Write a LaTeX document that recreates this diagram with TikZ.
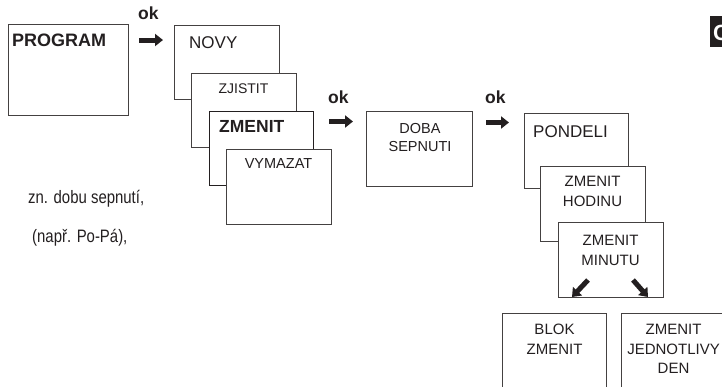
\documentclass[tikz,border=0pt]{standalone}
\usepackage{fontspec}
\setmainfont{Liberation Sans}
\newfontfamily\narrowfont{Liberation Sans}[FakeStretch=0.83]
\usetikzlibrary{arrows.meta}
\definecolor{ink}{HTML}{231F20}
\begin{document}
\begin{tikzpicture}[x=1pt,y=-1pt,
  box/.style={draw=ink!85, line width=0.9pt, fill=white, minimum width=105pt,
    minimum height=75pt, inner sep=0pt, anchor=north west},
  txt/.style={inner sep=0pt, text=ink},
  multi/.style={txt, anchor=north, align=center, font=\fontsize{15}{19.5}\selectfont},
  okl/.style={txt, anchor=base west, font=\bfseries\fontsize{17.5}{20}\selectfont},
  okarrow/.style={draw=ink, line width=5pt, -{Triangle[length=8pt,width=12pt]}}
]
\useasboundingbox (0,0) rectangle (722,386);
\clip (0,0) rectangle (722,386);

% PROGRAM
\node[box, minimum width=120pt, minimum height=91pt] (prog) at (8,24) {};
\node[txt, anchor=base west, font=\bfseries\fontsize{18}{20}\selectfont] (progT) at (12,46) {PROGRAM};
\node[okl] (ok1) at (138,19) {ok};
\coordinate (a1s) at (139,40);
\coordinate (a1e) at (163,40);
\draw[okarrow] (a1s) -- (a1e);

% stack 1
\node[box, minimum height=74pt] (novy) at (174,25) {};
\node[txt, anchor=base west, font=\fontsize{17}{20}\selectfont] (novyT) at (189,48) {NOVY};
\node[box, minimum height=74pt] (zjis) at (191,73) {};
\node[txt, anchor=base, font=\fontsize{14}{17}\selectfont] (zjisT) at (243.5,93) {ZJISTIT};
\node[box, draw=ink, minimum width=104pt, minimum height=74pt] (zmen) at (209,111) {};
\node[txt, anchor=base west, font=\bfseries\fontsize{17.5}{20}\selectfont] (zmenT) at (219,132) {ZMENIT};
\node[box] (vym) at (226,149) {};
\node[txt, anchor=base, font=\fontsize{14.5}{17}\selectfont] (vymT) at (278.5,168) {VYMAZAT};

\node[okl] (ok2) at (328,103) {ok};
\coordinate (a2s) at (329,121.5);
\coordinate (a2e) at (353,121.5);
\draw[okarrow] (a2s) -- (a2e);

% DOBA SEPNUTI
\node[box, minimum width=106pt] (doba) at (366,111) {};
\node[multi, font=\fontsize{14.5}{18}\selectfont] (dobaT) at (420,123.6) {DOBA\\SEPNUTI};

\node[okl] (ok3) at (485,103) {ok};
\coordinate (a3s) at (486,122.5);
\coordinate (a3e) at (509,122.5);
\draw[okarrow] (a3s) -- (a3e);

% stack 2
\node[box, minimum width=104pt] (pond) at (524,113) {};
\node[txt, anchor=base west, font=\fontsize{17}{20}\selectfont] (pondT) at (533,137) {PONDELI};
\node[box] (hod) at (540,166) {};
\node[multi] (hodT) at (592.5,176.3) {ZMENIT\\HODINU};
\node[box] (min) at (558,222) {};
\node[multi] (minT) at (610.5,235.3) {ZMENIT\\MINUTU};
\coordinate (d1s) at (588,280);
\coordinate (d1e) at (572,297);
\coordinate (d2s) at (633,280);
\coordinate (d2e) at (648,297);
\draw[okarrow] (d1s) -- (d1e);
\draw[okarrow] (d2s) -- (d2e);

% bottom
\node[box, minimum width=104pt, minimum height=90pt] (blok) at (502,313) {};
\node[multi] (blokT) at (554.5,324.3) {BLOK\\ZMENIT};
\node[box, minimum height=90pt] (jed) at (621,313) {};
\node[multi] (jedT) at (673.5,324.3) {ZMENIT\\JEDNOTLIVY\\DEN};

% left text
\node[txt, anchor=base west, font=\narrowfont\fontsize{18}{20}\selectfont] (t1) at (28,203) {zn. dobu sepnutí,};
\node[txt, anchor=base west, font=\narrowfont\fontsize{18}{20}\selectfont] (t2) at (32,242) {(např. Po-Pá),};

% language tab
\node[fill=ink, minimum width=20pt, minimum height=31pt, inner sep=0pt, anchor=north west] (tab) at (710,16) {};
\node[txt, text=white, anchor=base west, font=\bfseries\fontsize{22}{24}\selectfont] (tabT) at (713,40) {C};
\end{tikzpicture}
\end{document}
